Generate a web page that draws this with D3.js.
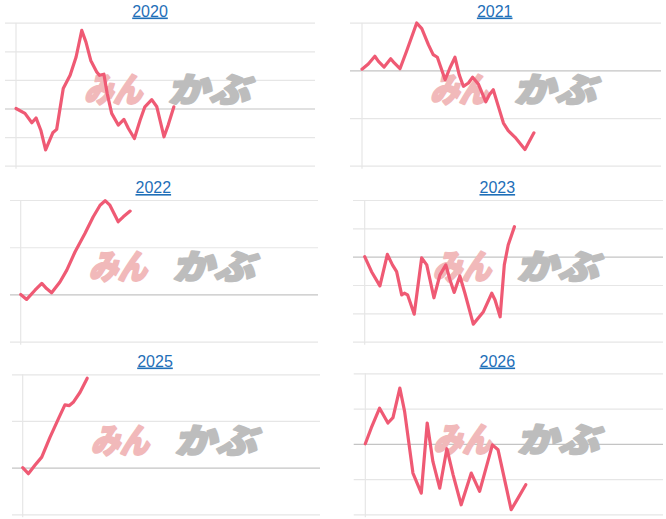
<!DOCTYPE html>
<html><head><meta charset="utf-8">
<script src="https://cdn.jsdelivr.net/npm/d3@7"></script>
<style>
html,body{margin:0;padding:0;background:#fff;}
svg{display:block;}
.title{font-family:"Liberation Sans",Arial,sans-serif;font-size:16px;fill:#1f6fb8;text-decoration:underline;}
</style></head>
<body>
<svg id="chart" width="666" height="519"></svg>
<script>
// ---- data (value = % change from start of year, x = position through the year, 0..100) ----
const years = ["2020", "2021", "2022", "2023", "2025", "2026"];

const x2020 = [0,3.0,5.3,6.7,8.3,9.9,12.3,13.6,15.8,18.1,20.1,22.0,23.4,25.0,27.0,27.9,29.4,30.5,32.0,34.2,36.1,37.6,39.6,41.5,43.1,45.4,47.1,49.5,50.9,52.8];
const v2020 = [0,-1.7,-5.0,-3.3,-7.6,-14.5,-8.5,-7.3,7.0,11.6,18.0,27.3,23.2,16.8,12.8,11.6,12.0,5.2,-1.7,-5.8,-3.8,-7.0,-10.5,-4.1,0.6,3.1,0.6,-9.9,-5.8,0.6];

const x2021 = [0,2.1,4.3,5.5,7.4,9.6,10.8,12.7,14.9,18.3,20.0,22.2,23.8,25.2,27.8,29.4,31.1,32.5,33.9,35.6,37.0,38.9,41.4,42.6,43.9,45.6,47.3,48.9,51.2,54.5,57.5];
const v2021 = [0.5,2.7,5.9,3.8,1.4,4.9,3.1,0.7,8.0,19.9,17.5,10.8,6.6,5.5,-3.9,1.0,5.5,-1.8,-6.7,-5.3,-2.9,-5.7,-13.2,-10.2,-8.1,-15.1,-22.1,-25.3,-28.1,-33.2,-26.2];

const x2022 = [0,2.0,4.8,7.1,8.7,10.4,13.2,15.5,18.3,21.6,24.4,26.7,28.4,30.0,32.8,34.5,36.8];
const v2022 = [0,-2.1,1.8,4.7,2.5,0.7,5.3,10.3,18.1,25.8,32.9,37.8,39.7,37.8,30.8,32.9,35.3];

const x2023 = [0,2.3,5.1,7.6,9.3,10.7,12.4,13.3,14.4,16.6,19.1,20.8,23.2,25.2,27.2,28.6,30.0,31.9,33.6,36.4,39.8,42.6,43.7,45.4,46.8,48.1,50.2];
const v2023 = [0,-5.3,-10.3,0.8,-2.9,-5.3,-13.5,-12.9,-13.5,-20.3,-0.4,-2.9,-14.5,-6.5,-2.9,-8.2,-12.6,-6.8,-12.9,-23.8,-19.4,-12.9,-15.3,-21.2,-2.9,4.1,10.6];

const x2025 = [0,1.9,4.1,6.4,9.2,12.0,14.2,15.7,17.0,19.3,21.7];
const v2025 = [0,-2.6,1.0,4.5,13.1,20.9,26.9,26.6,28.0,32.3,38.3];

const x2026 = [0,2.0,4.8,7.6,9.3,11.6,13.2,16.0,18.8,20.8,22.7,25.0,27.4,29.5,32.2,35.6,38.4,42.7,44.6,49.0,51.3,53.9];
const v2026 = [0,4.5,10.1,5.9,7.4,15.8,9.2,-8.3,-14.0,5.9,-5.0,-12.6,-1.4,-8.8,-17.3,-8.3,-13.5,-0.3,-1.7,-18.7,-15.4,-11.6];

const ticks2020 = [-20,-10,0,10,20,30];
const ticks2021 = [-40,-20,0,20];
const ticks2022 = [-20,0,20,40];
const ticks2023 = [-30,-20,-10,0,10,20];
const ticks2025 = [-20,0,20,40];
const ticks2026 = [-20,-10,0,10,20];

const watermarkParts = ["みん", "かぶ"];

const xDomain = [0, 100];

// ---- layout (pixels) ----
const layout = [
  {gx:5,   ax:16,    r:315, top:22.7, bot:165.7, tx:150,   ty:16.5},
  {gx:350, ax:362,   r:661, top:22.7, bot:165.7, tx:494.7, ty:16.5},
  {gx:10,  ax:20.7,  r:318, top:200,  bot:341.7, tx:153.3, ty:193},
  {gx:353, ax:364.7, r:663, top:200,  bot:341.7, tx:497.3, ty:193},
  {gx:12,  ax:22.7,  r:320, top:374.3,bot:514.3, tx:155,   ty:366.5},
  {gx:353.7,ax:365.3,r:663, top:373.3,bot:514.3, tx:497.3, ty:366.5}
];

const series = [
  {xs:x2020, vs:v2020, ticks:ticks2020},
  {xs:x2021, vs:v2021, ticks:ticks2021},
  {xs:x2022, vs:v2022, ticks:ticks2022},
  {xs:x2023, vs:v2023, ticks:ticks2023},
  {xs:x2025, vs:v2025, ticks:ticks2025},
  {xs:x2026, vs:v2026, ticks:ticks2026}
];

const svg = d3.select("#chart");

series.forEach((s, i) => {
  const L = layout[i];
  const g = svg.append("g");
  const x = d3.scaleLinear().domain(xDomain).range([L.ax, L.r]);
  const y = d3.scaleLinear().domain(d3.extent(s.ticks)).range([L.bot, L.top]);

  // gridlines via axis
  const grid = g.append("g")
    .attr("transform", `translate(${L.gx},0)`)
    .call(d3.axisLeft(y).tickValues(s.ticks).tickSize(-(L.r - L.gx)).tickFormat(""));
  grid.select(".domain").remove();
  grid.selectAll(".tick line")
    .attr("stroke", d => d === 0 ? "#c4c4c4" : "#e6e6e6")
    .attr("stroke-width", 1.2);

  // vertical axis line
  g.append("line")
    .attr("x1", L.ax).attr("x2", L.ax)
    .attr("y1", L.top).attr("y2", L.bot + 3)
    .attr("stroke", "#e6e6e6").attr("stroke-width", 1.2);

  // watermark
  const wm = g.append("g")
    .attr("transform", `translate(${L.ax + 66},${L.top + 79}) skewX(-14)`);
  wm.append("text")
    .attr("x", 2).attr("y", 0)
    .attr("textLength", 58).attr("lengthAdjust", "spacingAndGlyphs")
    .style("font-family", '"Noto Sans CJK JP", sans-serif')
    .style("font-weight", 900).style("font-size", "34px")
    .attr("fill", "#f1b9ba").attr("stroke", "#f1b9ba").attr("stroke-width", 2.2)
    .attr("stroke-linejoin", "round")
    .text(watermarkParts[0]);
  wm.append("text")
    .attr("x", 86).attr("y", 0)
    .attr("textLength", 82).attr("lengthAdjust", "spacingAndGlyphs")
    .style("font-family", '"Noto Sans CJK JP", sans-serif')
    .style("font-weight", 900).style("font-size", "34px")
    .attr("fill", "#bdbdbd").attr("stroke", "#bdbdbd").attr("stroke-width", 2.2)
    .attr("stroke-linejoin", "round")
    .text(watermarkParts[1]);

  // line
  const pts = s.xs.map((xv, k) => [xv, s.vs[k]]);
  g.append("path")
    .datum(pts)
    .attr("fill", "none")
    .attr("stroke", "#ef5a74")
    .attr("stroke-width", 3.2)
    .attr("stroke-linejoin", "round")
    .attr("stroke-linecap", "round")
    .attr("d", d3.line().x(d => x(d[0])).y(d => y(d[1])));

  // title
  g.append("text")
    .attr("class", "title")
    .attr("x", L.tx).attr("y", L.ty)
    .attr("text-anchor", "middle")
    .text(years[i]);
});
</script>
</body></html>
